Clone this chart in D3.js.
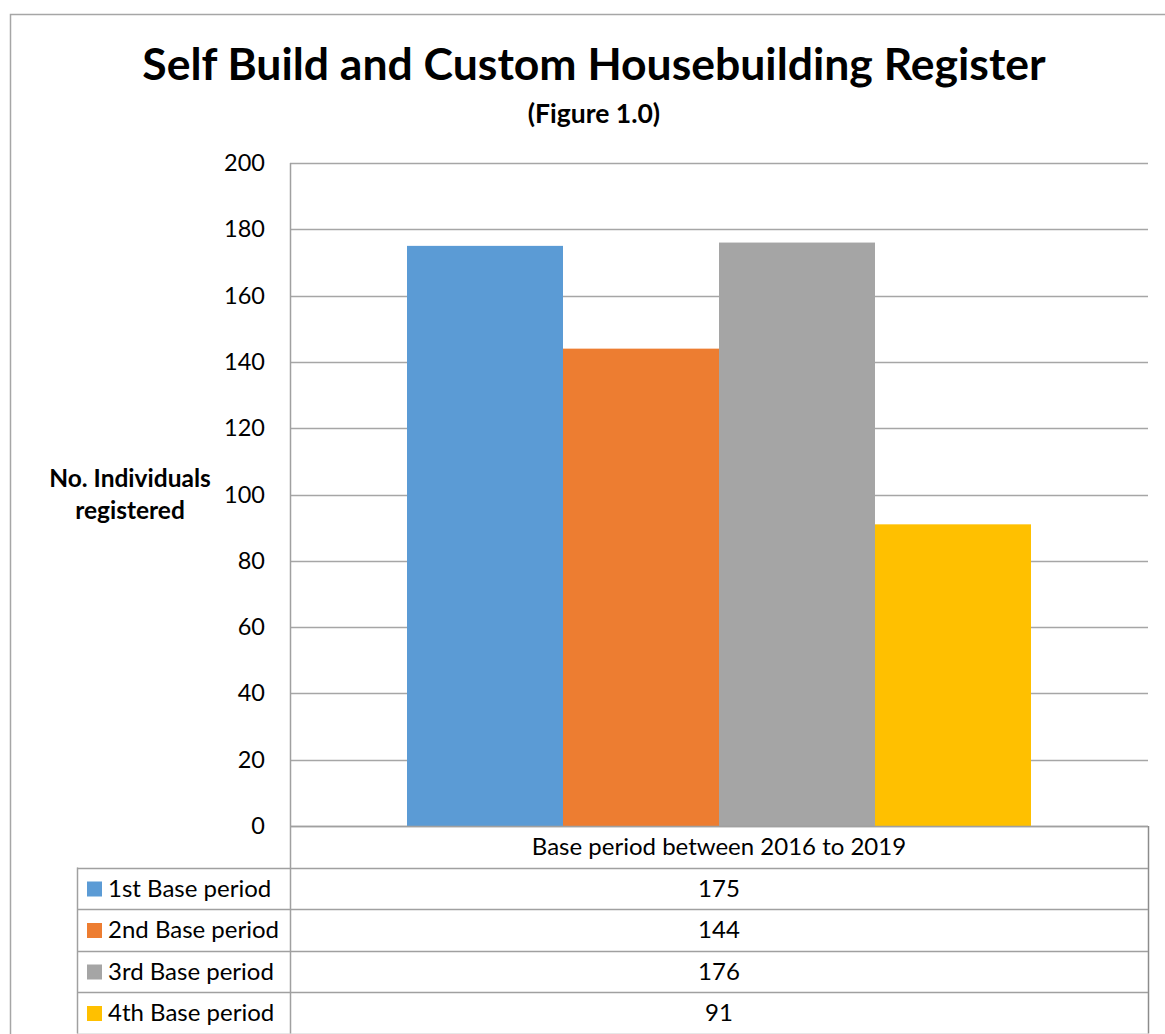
<!DOCTYPE html>
<html><head><meta charset="utf-8">
<script src="https://cdn.jsdelivr.net/npm/d3@7"></script>
<style>
html,body{margin:0;padding:0;background:#fff;}
svg{display:block;font-family:Lato,"Open Sans",sans-serif;}
</style></head>
<body>
<svg id="chart" width="1165" height="1034"></svg>
<script>
const categories = ["Base period between 2016 to 2019"];
const seriesNames = ["1st Base period","2nd Base period","3rd Base period","4th Base period"];
const seriesValues = [175, 144, 176, 91];
const seriesColors = ["#5B9BD5","#ED7D31","#A5A5A5","#FFC000"];
const yTicks = [0,20,40,60,80,100,120,140,160,180,200];
const titleText = "Self Build and Custom Housebuilding Register";
const subtitleText = "(Figure 1.0)";
const yLabelLines = ["No. Individuals","registered"];

const svg = d3.select("#chart");
const plot = {left:290, right:1148, top:163, bottom:826};
const table = {left:77, rowH:41.5};
const fs = 24;

// outer frame
svg.append("rect").attr("x",10.5).attr("y",14.5).attr("width",1200).attr("height",1100)
  .attr("fill","none").attr("stroke","#a6a6a6").attr("stroke-width",1.5);

// title
svg.append("text").attr("x",594).attr("y",80).attr("text-anchor","middle")
  .attr("font-weight","bold").attr("font-size",44.5).attr("fill","#000").text(titleText);
svg.append("text").attr("x",594).attr("y",123).attr("text-anchor","middle")
  .attr("font-weight","bold").attr("font-size",26.5).attr("fill","#000").text(subtitleText);

const y = d3.scaleLinear().domain([0,200]).range([plot.bottom, plot.top]);
const x0 = d3.scaleBand().domain(categories).range([plot.left, plot.right]).paddingInner(0).paddingOuter(0.1875);
const x1 = d3.scaleBand().domain(seriesNames).range([0, x0.bandwidth()]).padding(0);

// gridlines
svg.append("g").selectAll("line").data(yTicks).join("line")
  .attr("x1",plot.left).attr("x2",plot.right)
  .attr("y1",d=>Math.round(y(d))+0.5).attr("y2",d=>Math.round(y(d))+0.5)
  .attr("stroke","#a6a6a6").attr("stroke-width",1.3);

// y axis tick labels
const yAxis = d3.axisLeft(y).tickValues(yTicks).tickSize(0).tickPadding(25);
const ga = svg.append("g").attr("transform",`translate(${plot.left},0)`).call(yAxis);
ga.select(".domain").remove();
ga.selectAll("text").attr("font-size",23.5).attr("fill","#000").attr("font-family","Lato,'Open Sans',sans-serif");

// bars
svg.append("g").selectAll("rect").data(seriesNames.map((s,i)=>({s,v:seriesValues[i],c:seriesColors[i]})))
  .join("rect")
  .attr("x",d=>x0(categories[0])+x1(d.s))
  .attr("width",x1.bandwidth())
  .attr("y",d=>y(d.v)).attr("height",d=>y(0)-y(d.v))
  .attr("fill",d=>d.c);

// y label
const yl = svg.append("text").attr("text-anchor","middle").attr("font-weight","bold").attr("font-size",24.5).attr("fill","#000");
yLabelLines.forEach((l,i)=>yl.append("tspan").attr("x",130).attr("y",487+i*32).text(l));

// data table
const lineCol = "#a0a0a0";
const rowsTop = plot.bottom + table.rowH;
const tableBottom = rowsTop + seriesNames.length*table.rowH;
const tg = svg.append("g");
tg.append("line").attr("x1",plot.left+0.5).attr("x2",plot.left+0.5).attr("y1",plot.top).attr("y2",tableBottom).attr("stroke",lineCol).attr("stroke-width",1.5);
tg.append("line").attr("x1",plot.right+0.5).attr("x2",plot.right+0.5).attr("y1",plot.bottom).attr("y2",tableBottom).attr("stroke","#8c8c8c").attr("stroke-width",1.5);
tg.append("line").attr("x1",table.left+0.5).attr("x2",table.left+0.5).attr("y1",rowsTop).attr("y2",tableBottom).attr("stroke",lineCol).attr("stroke-width",1.5);
tg.append("line").attr("x1",plot.left).attr("x2",plot.right).attr("y1",plot.bottom+0.5).attr("y2",plot.bottom+0.5).attr("stroke",lineCol).attr("stroke-width",1.5);
d3.range(seriesNames.length+1).forEach(i=>{
  const yy = Math.round(rowsTop + i*table.rowH)+0.5;
  tg.append("line").attr("x1",table.left).attr("x2",plot.right).attr("y1",yy).attr("y2",yy).attr("stroke",lineCol).attr("stroke-width",1.5);
});
tg.append("text").attr("x",x0(categories[0])+x0.bandwidth()/2).attr("y",plot.bottom+table.rowH/2+8.5)
  .attr("text-anchor","middle").attr("font-size",fs).attr("fill","#000").text(categories[0]);
seriesNames.forEach((s,i)=>{
  const top = rowsTop + i*table.rowH;
  tg.append("rect").attr("x",87).attr("y",top+14).attr("width",15).attr("height",15).attr("fill",seriesColors[i]);
  tg.append("text").attr("x",108).attr("y",top+table.rowH/2+8.5).attr("font-size",fs).attr("fill","#000").text(s);
  tg.append("text").attr("x",x0(categories[0])+x0.bandwidth()/2).attr("y",top+table.rowH/2+8.5)
    .attr("text-anchor","middle").attr("font-size",fs).attr("fill","#000").text(seriesValues[i]);
});
</script>
</body></html>
